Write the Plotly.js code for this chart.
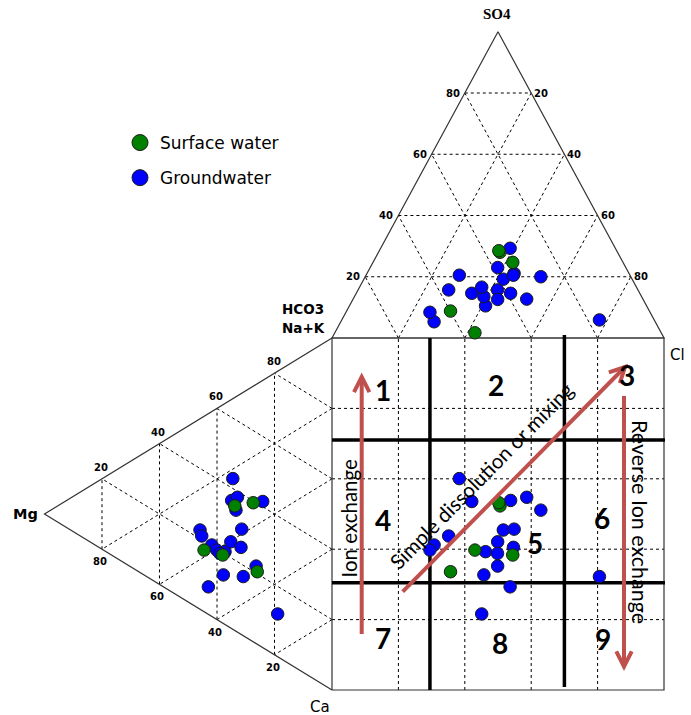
<!DOCTYPE html>
<html>
<head>
<meta charset="utf-8">
<script src="https://cdn.plot.ly/plotly-3.0.1.min.js"></script>
<style>html,body{margin:0;padding:0;background:#fff;}#chart{width:691px;height:715px;}</style>
</head>
<body>
<div id="chart"></div>
<script>
// ---------------- DATA (percent of meq) ----------------
// Groundwater samples
const gwSO4 = [20.5,14.6,14.6,12.7,20.0,19.2,21.1,15.7,5.3,8.4,10.5,23.0,15.7,20.5,12.6,13.5,29.3,16.6,5.9];
const gwCl  = [28.1,34.8,46.5,52.3,52.9,42.0,44.3,27.3,28.1,25.3,41.0,38.4,42.0,44.4,43.6,39.0,39.0,36.8,77.6];
const gwMg  = [34.5,24.1,34.9,32.9,33.4,45.9,31.4,45.3,41.8,40.1,37.2,35.2,39.0,31.65,26.4,37.8,43.0,18.9,30.85];
const gwNaK = [42.8,41.5,36.4,38.3,34.4,22.5,30.0,21.1,20.3,19.7,20.7,24.5,19.3,24.7,22.0,13.8,7.8,12.15,16.8];
// Surface water samples
const swSO4 = [28.0,1.7,24.7,8.8,28.5];
const swCl  = [36.6,42.2,42.1,31.3,36.0];
const swMg  = [33.8,44.5,38.0,26.0,27.4];
const swNaK = [35.4,17.5,19.35,20.6,39.5];

const gridTicks = [20,40,60,80];
const zoneX = [29.5,70];   // thick class boundaries in the square (x %)
const zoneY = [30.5,71];   // thick class boundaries in the square (y %)
const zoneLabels = ['1','2','3','4','5','6','7','8','9'];
const seriesNames = ['Surface water','Groundwater'];

// ---------------- GEOMETRY ----------------
const W=691,H=715;
const X0=332, Y0=690, SX=3.32, SY=3.52;   // square origin (px) and px per %
const TH=87, LW=86.6;                      // triangle heights
const xr=[(0-X0)/SX,(W-X0)/SX], yr=[(Y0-H)/SY, Y0/SY];
function toPx(x,y){return [X0+SX*x, Y0-SY*y];}
function fromPx(px,py){return [(px-X0)/SX,(Y0-py)/SY];}
function topXY(s,c){return [c+s/2, 100+TH*s/100];}
function leftXY(m,n){return [-LW*m/100, n+m/2];}
function sqXY(s,c,m,n){return [c+s/2, n+m/2];}

function samplePts(S,C,M,N){
  const xs=[],ys=[];
  S.forEach((s,i)=>{const p=topXY(s,C[i]);xs.push(p[0]);ys.push(p[1]);});
  M.forEach((m,i)=>{const p=leftXY(m,N[i]);xs.push(p[0]);ys.push(p[1]);});
  S.forEach((s,i)=>{const p=sqXY(s,C[i],M[i],N[i]);xs.push(p[0]);ys.push(p[1]);});
  return [xs,ys];
}

// dashed grid
const dX=[],dY=[];
function seg(arr1,arr2,p,q){arr1.push(p[0],q[0],null);arr2.push(p[1],q[1],null);}
gridTicks.forEach(k=>{
  // top triangle
  seg(dX,dY,topXY(k,0),topXY(k,100-k));
  seg(dX,dY,topXY(0,k),topXY(100-k,k));
  seg(dX,dY,topXY(0,100-k),topXY(100-k,0));
  // left triangle
  seg(dX,dY,leftXY(k,0),leftXY(k,100-k));
  seg(dX,dY,leftXY(0,k),leftXY(100-k,k));
  seg(dX,dY,leftXY(0,100-k),leftXY(100-k,0));
  // square
  seg(dX,dY,[k,0],[k,100]);
  seg(dX,dY,[0,k],[100,k]);
});

// outlines
const oX=[],oY=[];
[topXY(0,0),topXY(0,100),topXY(100,0),topXY(0,0)].forEach(p=>{oX.push(p[0]);oY.push(p[1]);});
oX.push(null);oY.push(null);
[leftXY(0,100),leftXY(100,0),leftXY(0,0)].forEach(p=>{oX.push(p[0]);oY.push(p[1]);});
oX.push(null);oY.push(null);
[[0,0],[100,0],[100,100],[0,100],[0,0]].forEach(p=>{oX.push(p[0]);oY.push(p[1]);});

// thick zone lines
const tX=[],tY=[];
seg(tX,tY,[zoneX[0],100],[zoneX[0],0]);
seg(tX,tY,[zoneX[1],100.85],[zoneX[1],0.85]);
zoneY.forEach(v=>seg(tX,tY,[0,v],[100.3,v]));

const gw=samplePts(gwSO4,gwCl,gwMg,gwNaK);
const sw=samplePts(swSO4,swCl,swMg,swNaK);

const mline={color:'#1a1a1a',width:1};
const traces=[
  {x:dX,y:dY,mode:'lines',line:{color:'#000',width:1,dash:'3px,3px'},showlegend:false,hoverinfo:'skip'},
  {x:oX,y:oY,mode:'lines',line:{color:'#333',width:1.2},showlegend:false,hoverinfo:'skip'},
  {x:tX,y:tY,mode:'lines',line:{color:'#000',width:3.5},showlegend:false,hoverinfo:'skip'},
  {x:gw[0],y:gw[1],mode:'markers',marker:{size:12.5,color:'#0000FF',line:mline},showlegend:false,hoverinfo:'skip'},
  {x:sw[0],y:sw[1],mode:'markers',marker:{size:12.5,color:'#008000',line:mline},showlegend:false,hoverinfo:'skip'},
  {x:[null],y:[null],mode:'markers',name:seriesNames[0],legendgroup:'a',marker:{size:18,color:'#008000',line:mline}},
  {x:[null],y:[null],mode:'markers',name:seriesNames[1],legendgroup:'b',marker:{size:18,color:'#0000FF',line:mline}}
];

// ---------------- ANNOTATIONS ----------------
const ann=[];
const tickFont={family:'DejaVu Sans',size:10,color:'#000',weight:'bold'};
gridTicks.forEach(k=>{
  let p=topXY(k,0);
  ann.push({x:p[0],y:p[1],text:String(k),xanchor:'right',yanchor:'middle',xshift:-3,showarrow:false,font:tickFont});
  p=topXY(k,100-k);
  ann.push({x:p[0],y:p[1],text:String(100-k),xanchor:'left',yanchor:'middle',xshift:1,showarrow:false,font:tickFont});
  p=leftXY(100-k,k);
  ann.push({x:p[0],y:p[1],text:String(k),xanchor:'center',yanchor:'bottom',yshift:4,xshift:-1,showarrow:false,font:tickFont});
  p=leftXY(k,0);
  ann.push({x:p[0],y:p[1],text:String(k),xanchor:'center',yanchor:'top',yshift:-5,xshift:-2,showarrow:false,font:tickFont});
});
const bsans={family:'DejaVu Sans',size:13.5,color:'#000',weight:'bold'};
const rsans={family:'DejaVu Sans',size:15,color:'#000'};
function lab(px,py,text,font,extra){const d=fromPx(px,py);ann.push(Object.assign({x:d[0],y:d[1],text:text,showarrow:false,font:font,xanchor:'center',yanchor:'middle'},extra||{}));}
lab(497,14,'SO4',{family:'Liberation Serif',size:15,color:'#000',weight:'bold'});
lab(303,309,'HCO3',bsans);
lab(303,327.5,'Na+K',bsans);
lab(677,355,'Cl',rsans);
lab(25,514,'Mg',{family:'DejaVu Sans',size:14.5,color:'#000',weight:'bold'});
lab(320,706.5,'Ca',rsans);

const numPos=[[383.3,390],[495.7,385],[626.7,375],[383.3,520],[535,543.3],[601.7,518.3],[383.3,638.3],[500,643.3],[602.7,639.3]];
const numFont={family:'Lato',size:28,color:'#000',weight:'bold'};
zoneLabels.forEach((t,i)=>lab(numPos[i][0],numPos[i][1],t,numFont));

const arrFont={family:'Lato',size:20.5,color:'#000'};
lab(348.5,518,'Ion exchange',arrFont,{textangle:-90});
lab(640,522,'Reverse Ion exchange',{family:'Lato',size:21.5,color:'#000'},{textangle:90});
lab(481,476,'Simple dissolution or mixing',arrFont,{textangle:-45.5});

// ---------------- ARROWS ----------------
const shapes=[];
const red='#C0504D';
function arrow(p0,p1){
  const a=fromPx(p0[0],p0[1]), b=fromPx(p1[0],p1[1]);
  shapes.push({type:'line',xref:'x',yref:'y',x0:a[0],y0:a[1],x1:b[0],y1:b[1],line:{color:red,width:4}});
  const ang=Math.atan2(p1[1]-p0[1],p1[0]-p0[0]);
  const L=17, h=27*Math.PI/180;
  const l=[p1[0]-L*Math.cos(ang-h),p1[1]-L*Math.sin(ang-h)];
  const r=[p1[0]-L*Math.cos(ang+h),p1[1]-L*Math.sin(ang+h)];
  const dl=fromPx(l[0],l[1]), dr=fromPx(r[0],r[1]);
  shapes.push({type:'path',xref:'x',yref:'y',path:`M${dl[0]},${dl[1]} L${b[0]},${b[1]} L${dr[0]},${dr[1]}`,line:{color:red,width:4}});
}
arrow([361.7,634],[361.7,377]);
arrow([402.7,591.7],[625,367]);
arrow([624,396],[624,666.5]);

const layout={
  width:W,height:H,margin:{l:0,r:0,t:0,b:0},
  paper_bgcolor:'#fff',plot_bgcolor:'#fff',
  xaxis:{range:xr,visible:false,fixedrange:true},
  yaxis:{range:yr,visible:false,fixedrange:true},
  showlegend:true,
  legend:{x:120/W,y:1-125/H,xanchor:'left',yanchor:'top',traceorder:'grouped',tracegroupgap:10,
          font:{family:'DejaVu Sans',size:17,color:'#000'},bgcolor:'rgba(0,0,0,0)',borderwidth:0},
  annotations:ann,shapes:shapes,hovermode:false
};
Plotly.newPlot('chart',traces,layout,{staticPlot:true,displayModeBar:false});
</script>
</body>
</html>
